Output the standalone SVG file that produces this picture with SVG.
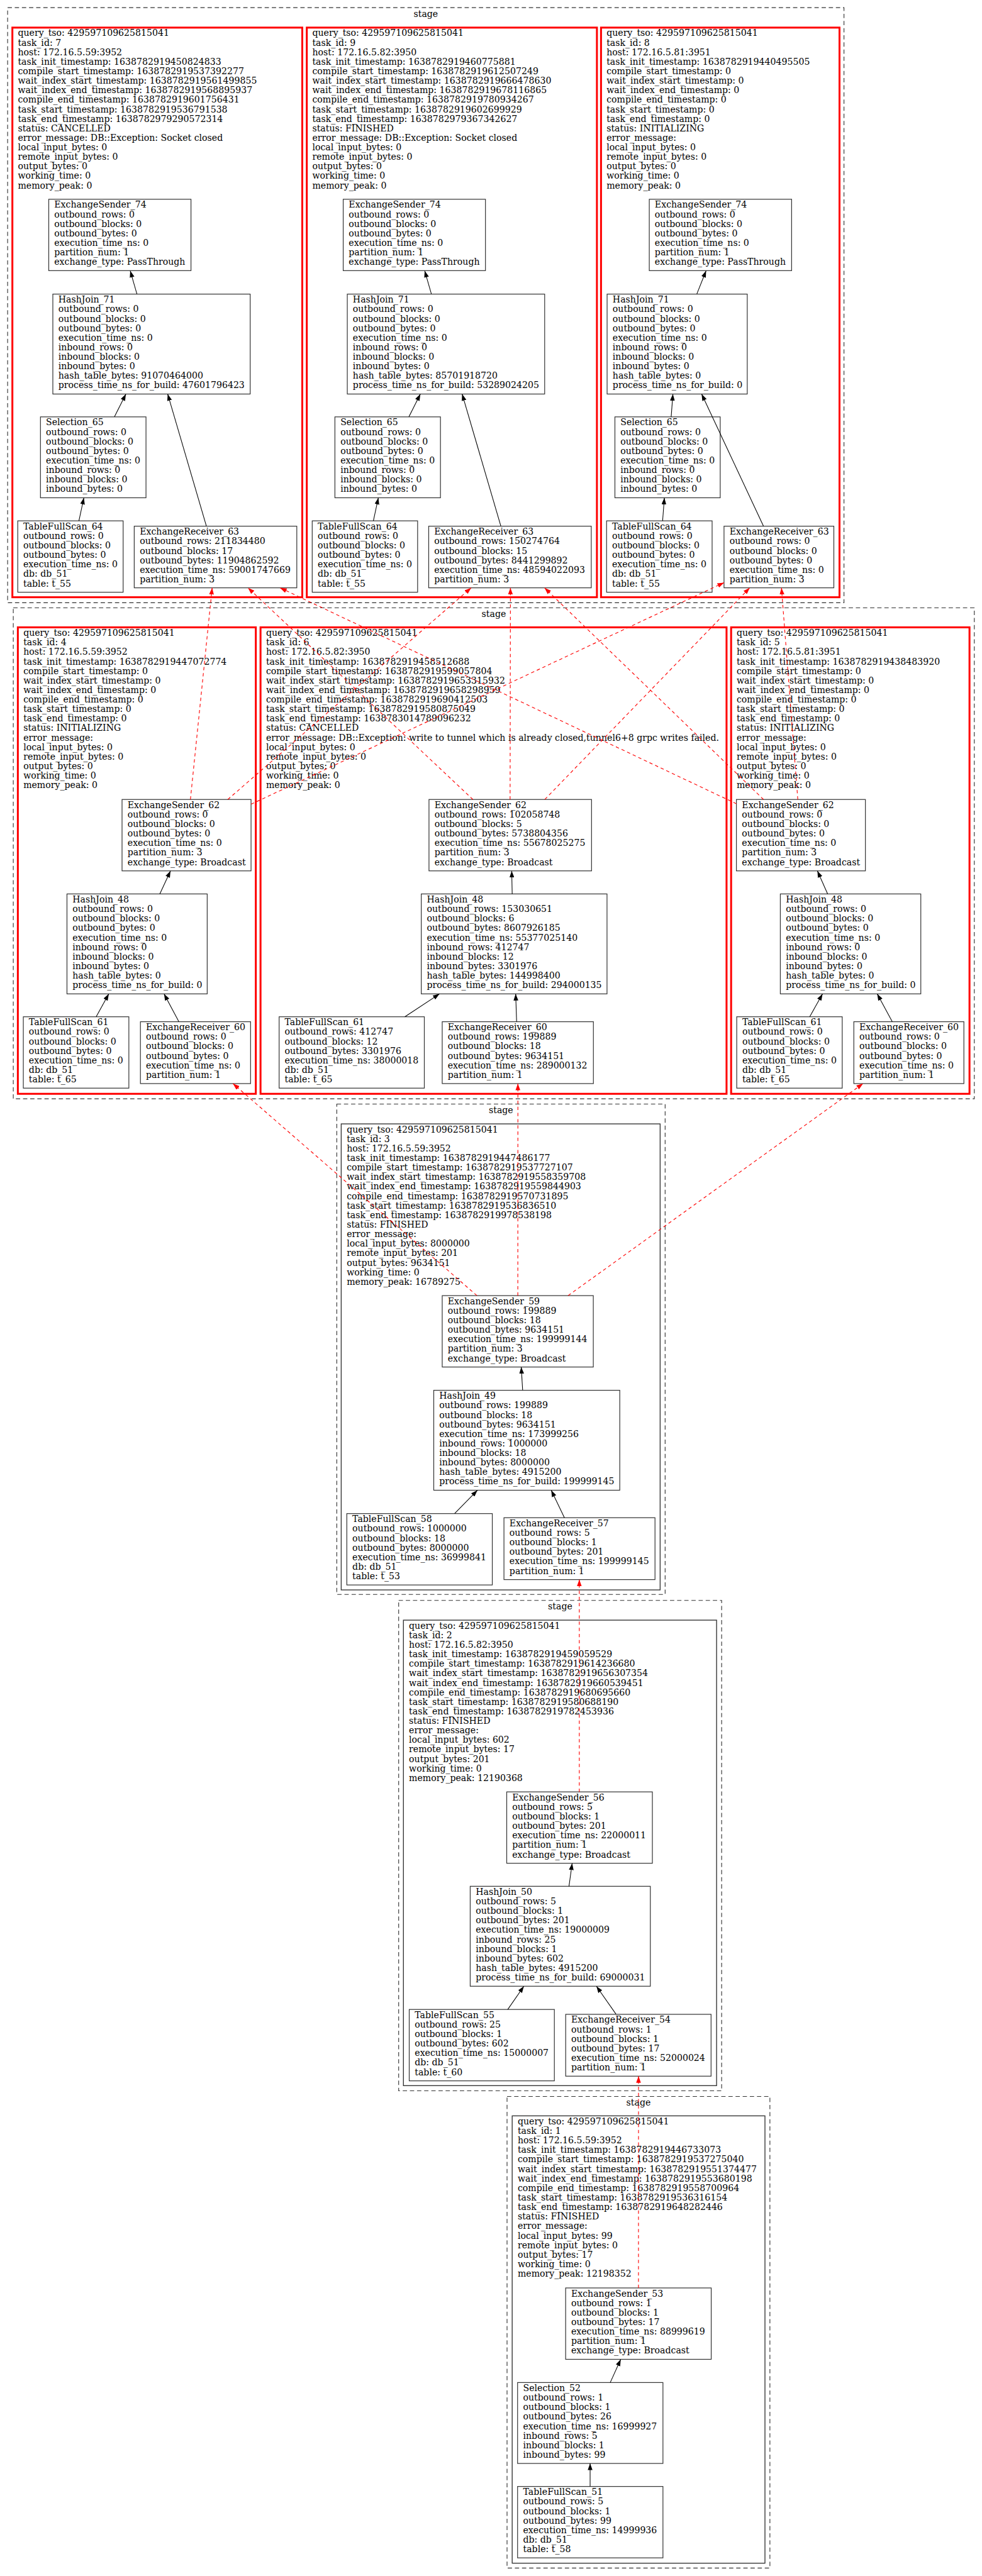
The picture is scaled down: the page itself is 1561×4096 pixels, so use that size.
<svg xmlns="http://www.w3.org/2000/svg" width="1561" height="4096" viewBox="0 0 1561 4096">
<style>
.t{font-family:"DejaVu Serif",serif;font-size:18.67px;fill:#000}
.lb{font-family:"DejaVu Serif",serif;font-size:18.67px;fill:#000;text-anchor:middle}
.n{fill:#fff;stroke:#333;stroke-width:1.6}
.r{fill:#fff;stroke:#f00;stroke-width:4}
.k{fill:#fff;stroke:#333;stroke-width:1.8}
.s{fill:none;stroke:#333;stroke-width:1.5;stroke-dasharray:9 6}
.e{stroke:#000;stroke-width:1.4;fill:none}
.d{stroke:#f00;stroke-width:1.5;stroke-dasharray:7 6;fill:none}
</style>
<defs>
<marker id="ab" viewBox="0 0 14 10" markerWidth="14" markerHeight="10" refX="14" refY="5" orient="auto" markerUnits="userSpaceOnUse"><path d="M0,0 L14,5 L0,10 z" fill="#000"/></marker>
<marker id="ar" viewBox="0 0 14 10" markerWidth="14" markerHeight="10" refX="14" refY="5" orient="auto" markerUnits="userSpaceOnUse"><path d="M0,0 L14,5 L0,10 z" fill="#f00"/></marker>
</defs>
<rect width="1561" height="4096" fill="#fff"/>
<g transform="scale(0.75668)">
<g id="clusters">
<rect class="s" x="16" y="16" width="1757" height="1250.5"/>
<text class="lb" x="894.5" y="35.5">stage</text>
<rect class="s" x="27.9" y="1277.3" width="2018.9" height="1031.7"/>
<text class="lb" x="1037.4" y="1296.8">stage</text>
<rect class="s" x="707.5" y="2320" width="689.8" height="1030.5"/>
<text class="lb" x="1052.4" y="2339.5">stage</text>
<rect class="s" x="837.5" y="3363" width="678.5" height="1030.6"/>
<text class="lb" x="1176.8" y="3382.5">stage</text>
<rect class="s" x="1065.2" y="4405.4" width="552.2" height="991"/>
<text class="lb" x="1341.3" y="4425">stage</text>
</g>

<g id="task7">
<rect class="r" x="26" y="58" width="609" height="1197"/>
<text class="t" x="37.6" y="76"><tspan x="37.6">query_tso: 429597109625815041</tspan><tspan x="37.6" dy="20">task_id: 7</tspan><tspan x="37.6" dy="20">host: 172.16.5.59:3952</tspan><tspan x="37.6" dy="20">task_init_timestamp: 1638782919450824833</tspan><tspan x="37.6" dy="20">compile_start_timestamp: 1638782919537392277</tspan><tspan x="37.6" dy="20">wait_index_start_timestamp: 1638782919561499855</tspan><tspan x="37.6" dy="20">wait_index_end_timestamp: 1638782919568895937</tspan><tspan x="37.6" dy="20">compile_end_timestamp: 1638782919601756431</tspan><tspan x="37.6" dy="20">task_start_timestamp: 1638782919536791538</tspan><tspan x="37.6" dy="20">task_end_timestamp: 1638782979290572314</tspan><tspan x="37.6" dy="20">status: CANCELLED</tspan><tspan x="37.6" dy="20">error_message: DB::Exception: Socket closed</tspan><tspan x="37.6" dy="20">local_input_bytes: 0</tspan><tspan x="37.6" dy="20">remote_input_bytes: 0</tspan><tspan x="37.6" dy="20">output_bytes: 0</tspan><tspan x="37.6" dy="20">working_time: 0</tspan><tspan x="37.6" dy="20">memory_peak: 0</tspan></text>
</g>
<g id="t7_es74"><rect class="n" x="102.4" y="418.7" width="298.8" height="150"/><text class="t" x="114" y="436.7"><tspan x="114">ExchangeSender_74</tspan><tspan x="114" dy="20">outbound_rows: 0</tspan><tspan x="114" dy="20">outbound_blocks: 0</tspan><tspan x="114" dy="20">outbound_bytes: 0</tspan><tspan x="114" dy="20">execution_time_ns: 0</tspan><tspan x="114" dy="20">partition_num: 1</tspan><tspan x="114" dy="20">exchange_type: PassThrough</tspan></text></g>
<g id="t7_hj71"><rect class="n" x="111" y="618" width="414.6" height="210"/><text class="t" x="122.6" y="636"><tspan x="122.6">HashJoin_71</tspan><tspan x="122.6" dy="20">outbound_rows: 0</tspan><tspan x="122.6" dy="20">outbound_blocks: 0</tspan><tspan x="122.6" dy="20">outbound_bytes: 0</tspan><tspan x="122.6" dy="20">execution_time_ns: 0</tspan><tspan x="122.6" dy="20">inbound_rows: 0</tspan><tspan x="122.6" dy="20">inbound_blocks: 0</tspan><tspan x="122.6" dy="20">inbound_bytes: 0</tspan><tspan x="122.6" dy="20">hash_table_bytes: 91070464000</tspan><tspan x="122.6" dy="20">process_time_ns_for_build: 47601796423</tspan></text></g>
<g id="t7_sel65"><rect class="n" x="85" y="876" width="221.7" height="170"/><text class="t" x="96.6" y="894"><tspan x="96.6">Selection_65</tspan><tspan x="96.6" dy="20">outbound_rows: 0</tspan><tspan x="96.6" dy="20">outbound_blocks: 0</tspan><tspan x="96.6" dy="20">outbound_bytes: 0</tspan><tspan x="96.6" dy="20">execution_time_ns: 0</tspan><tspan x="96.6" dy="20">inbound_rows: 0</tspan><tspan x="96.6" dy="20">inbound_blocks: 0</tspan><tspan x="96.6" dy="20">inbound_bytes: 0</tspan></text></g>
<g id="t7_tfs64"><rect class="n" x="37.3" y="1094.5" width="221.4" height="150"/><text class="t" x="48.9" y="1112.5"><tspan x="48.9">TableFullScan_64</tspan><tspan x="48.9" dy="20">outbound_rows: 0</tspan><tspan x="48.9" dy="20">outbound_blocks: 0</tspan><tspan x="48.9" dy="20">outbound_bytes: 0</tspan><tspan x="48.9" dy="20">execution_time_ns: 0</tspan><tspan x="48.9" dy="20">db: db_51</tspan><tspan x="48.9" dy="20">table: t_55</tspan></text></g>
<g id="t7_er63"><rect class="n" x="282" y="1105.7" width="341.5" height="129.5"/><text class="t" x="293.6" y="1123.7"><tspan x="293.6">ExchangeReceiver_63</tspan><tspan x="293.6" dy="20">outbound_rows: 211834480</tspan><tspan x="293.6" dy="20">outbound_blocks: 17</tspan><tspan x="293.6" dy="20">outbound_bytes: 11904862592</tspan><tspan x="293.6" dy="20">execution_time_ns: 59001747669</tspan><tspan x="293.6" dy="20">partition_num: 3</tspan></text></g>

<g id="task9">
<rect class="r" x="644.5" y="58" width="609.5" height="1197"/>
<text class="t" x="656.1" y="76"><tspan x="656.1">query_tso: 429597109625815041</tspan><tspan x="656.1" dy="20">task_id: 9</tspan><tspan x="656.1" dy="20">host: 172.16.5.82:3950</tspan><tspan x="656.1" dy="20">task_init_timestamp: 1638782919460775881</tspan><tspan x="656.1" dy="20">compile_start_timestamp: 1638782919612507249</tspan><tspan x="656.1" dy="20">wait_index_start_timestamp: 1638782919666478630</tspan><tspan x="656.1" dy="20">wait_index_end_timestamp: 1638782919678116865</tspan><tspan x="656.1" dy="20">compile_end_timestamp: 1638782919780934267</tspan><tspan x="656.1" dy="20">task_start_timestamp: 1638782919602699929</tspan><tspan x="656.1" dy="20">task_end_timestamp: 1638782979367342627</tspan><tspan x="656.1" dy="20">status: FINISHED</tspan><tspan x="656.1" dy="20">error_message: DB::Exception: Socket closed</tspan><tspan x="656.1" dy="20">local_input_bytes: 0</tspan><tspan x="656.1" dy="20">remote_input_bytes: 0</tspan><tspan x="656.1" dy="20">output_bytes: 0</tspan><tspan x="656.1" dy="20">working_time: 0</tspan><tspan x="656.1" dy="20">memory_peak: 0</tspan></text>
</g>
<g id="t9_es74"><rect class="n" x="721" y="418.7" width="298.8" height="150"/><text class="t" x="732.6" y="436.7"><tspan x="732.6">ExchangeSender_74</tspan><tspan x="732.6" dy="20">outbound_rows: 0</tspan><tspan x="732.6" dy="20">outbound_blocks: 0</tspan><tspan x="732.6" dy="20">outbound_bytes: 0</tspan><tspan x="732.6" dy="20">execution_time_ns: 0</tspan><tspan x="732.6" dy="20">partition_num: 1</tspan><tspan x="732.6" dy="20">exchange_type: PassThrough</tspan></text></g>
<g id="t9_hj71"><rect class="n" x="729.6" y="618" width="414.6" height="210"/><text class="t" x="741.2" y="636"><tspan x="741.2">HashJoin_71</tspan><tspan x="741.2" dy="20">outbound_rows: 0</tspan><tspan x="741.2" dy="20">outbound_blocks: 0</tspan><tspan x="741.2" dy="20">outbound_bytes: 0</tspan><tspan x="741.2" dy="20">execution_time_ns: 0</tspan><tspan x="741.2" dy="20">inbound_rows: 0</tspan><tspan x="741.2" dy="20">inbound_blocks: 0</tspan><tspan x="741.2" dy="20">inbound_bytes: 0</tspan><tspan x="741.2" dy="20">hash_table_bytes: 85701918720</tspan><tspan x="741.2" dy="20">process_time_ns_for_build: 53289024205</tspan></text></g>
<g id="t9_sel65"><rect class="n" x="703.6" y="876" width="221.7" height="170"/><text class="t" x="715.2" y="894"><tspan x="715.2">Selection_65</tspan><tspan x="715.2" dy="20">outbound_rows: 0</tspan><tspan x="715.2" dy="20">outbound_blocks: 0</tspan><tspan x="715.2" dy="20">outbound_bytes: 0</tspan><tspan x="715.2" dy="20">execution_time_ns: 0</tspan><tspan x="715.2" dy="20">inbound_rows: 0</tspan><tspan x="715.2" dy="20">inbound_blocks: 0</tspan><tspan x="715.2" dy="20">inbound_bytes: 0</tspan></text></g>
<g id="t9_tfs64"><rect class="n" x="655.9" y="1094.5" width="221.4" height="150"/><text class="t" x="667.5" y="1112.5"><tspan x="667.5">TableFullScan_64</tspan><tspan x="667.5" dy="20">outbound_rows: 0</tspan><tspan x="667.5" dy="20">outbound_blocks: 0</tspan><tspan x="667.5" dy="20">outbound_bytes: 0</tspan><tspan x="667.5" dy="20">execution_time_ns: 0</tspan><tspan x="667.5" dy="20">db: db_51</tspan><tspan x="667.5" dy="20">table: t_55</tspan></text></g>
<g id="t9_er63"><rect class="n" x="900.6" y="1105.7" width="341.5" height="129.5"/><text class="t" x="912.2" y="1123.7"><tspan x="912.2">ExchangeReceiver_63</tspan><tspan x="912.2" dy="20">outbound_rows: 150274764</tspan><tspan x="912.2" dy="20">outbound_blocks: 15</tspan><tspan x="912.2" dy="20">outbound_bytes: 8441299892</tspan><tspan x="912.2" dy="20">execution_time_ns: 48594022093</tspan><tspan x="912.2" dy="20">partition_num: 3</tspan></text></g>

<g id="task8">
<rect class="r" x="1262.6" y="58" width="501" height="1197"/>
<text class="t" x="1274.2" y="76"><tspan x="1274.2">query_tso: 429597109625815041</tspan><tspan x="1274.2" dy="20">task_id: 8</tspan><tspan x="1274.2" dy="20">host: 172.16.5.81:3951</tspan><tspan x="1274.2" dy="20">task_init_timestamp: 1638782919440495505</tspan><tspan x="1274.2" dy="20">compile_start_timestamp: 0</tspan><tspan x="1274.2" dy="20">wait_index_start_timestamp: 0</tspan><tspan x="1274.2" dy="20">wait_index_end_timestamp: 0</tspan><tspan x="1274.2" dy="20">compile_end_timestamp: 0</tspan><tspan x="1274.2" dy="20">task_start_timestamp: 0</tspan><tspan x="1274.2" dy="20">task_end_timestamp: 0</tspan><tspan x="1274.2" dy="20">status: INITIALIZING</tspan><tspan x="1274.2" dy="20">error_message:</tspan><tspan x="1274.2" dy="20">local_input_bytes: 0</tspan><tspan x="1274.2" dy="20">remote_input_bytes: 0</tspan><tspan x="1274.2" dy="20">output_bytes: 0</tspan><tspan x="1274.2" dy="20">working_time: 0</tspan><tspan x="1274.2" dy="20">memory_peak: 0</tspan></text>
</g>
<g id="t8_es74"><rect class="n" x="1364" y="418.7" width="299" height="150"/><text class="t" x="1375.6" y="436.7"><tspan x="1375.6">ExchangeSender_74</tspan><tspan x="1375.6" dy="20">outbound_rows: 0</tspan><tspan x="1375.6" dy="20">outbound_blocks: 0</tspan><tspan x="1375.6" dy="20">outbound_bytes: 0</tspan><tspan x="1375.6" dy="20">execution_time_ns: 0</tspan><tspan x="1375.6" dy="20">partition_num: 1</tspan><tspan x="1375.6" dy="20">exchange_type: PassThrough</tspan></text></g>
<g id="t8_hj71"><rect class="n" x="1275.4" y="618" width="294.4" height="210"/><text class="t" x="1287" y="636"><tspan x="1287">HashJoin_71</tspan><tspan x="1287" dy="20">outbound_rows: 0</tspan><tspan x="1287" dy="20">outbound_blocks: 0</tspan><tspan x="1287" dy="20">outbound_bytes: 0</tspan><tspan x="1287" dy="20">execution_time_ns: 0</tspan><tspan x="1287" dy="20">inbound_rows: 0</tspan><tspan x="1287" dy="20">inbound_blocks: 0</tspan><tspan x="1287" dy="20">inbound_bytes: 0</tspan><tspan x="1287" dy="20">hash_table_bytes: 0</tspan><tspan x="1287" dy="20">process_time_ns_for_build: 0</tspan></text></g>
<g id="t8_sel65"><rect class="n" x="1291.8" y="876" width="221.2" height="170"/><text class="t" x="1303.4" y="894"><tspan x="1303.4">Selection_65</tspan><tspan x="1303.4" dy="20">outbound_rows: 0</tspan><tspan x="1303.4" dy="20">outbound_blocks: 0</tspan><tspan x="1303.4" dy="20">outbound_bytes: 0</tspan><tspan x="1303.4" dy="20">execution_time_ns: 0</tspan><tspan x="1303.4" dy="20">inbound_rows: 0</tspan><tspan x="1303.4" dy="20">inbound_blocks: 0</tspan><tspan x="1303.4" dy="20">inbound_bytes: 0</tspan></text></g>
<g id="t8_tfs64"><rect class="n" x="1274.3" y="1094.5" width="221.7" height="150"/><text class="t" x="1285.9" y="1112.5"><tspan x="1285.9">TableFullScan_64</tspan><tspan x="1285.9" dy="20">outbound_rows: 0</tspan><tspan x="1285.9" dy="20">outbound_blocks: 0</tspan><tspan x="1285.9" dy="20">outbound_bytes: 0</tspan><tspan x="1285.9" dy="20">execution_time_ns: 0</tspan><tspan x="1285.9" dy="20">db: db_51</tspan><tspan x="1285.9" dy="20">table: t_55</tspan></text></g>
<g id="t8_er63"><rect class="n" x="1521" y="1105.7" width="230.7" height="129.5"/><text class="t" x="1532.6" y="1123.7"><tspan x="1532.6">ExchangeReceiver_63</tspan><tspan x="1532.6" dy="20">outbound_rows: 0</tspan><tspan x="1532.6" dy="20">outbound_blocks: 0</tspan><tspan x="1532.6" dy="20">outbound_bytes: 0</tspan><tspan x="1532.6" dy="20">execution_time_ns: 0</tspan><tspan x="1532.6" dy="20">partition_num: 3</tspan></text></g>

<g id="task4">
<rect class="r" x="37.5" y="1318.3" width="499.9" height="980.2"/>
<text class="t" x="49.1" y="1336.3"><tspan x="49.1">query_tso: 429597109625815041</tspan><tspan x="49.1" dy="20">task_id: 4</tspan><tspan x="49.1" dy="20">host: 172.16.5.59:3952</tspan><tspan x="49.1" dy="20">task_init_timestamp: 1638782919447072774</tspan><tspan x="49.1" dy="20">compile_start_timestamp: 0</tspan><tspan x="49.1" dy="20">wait_index_start_timestamp: 0</tspan><tspan x="49.1" dy="20">wait_index_end_timestamp: 0</tspan><tspan x="49.1" dy="20">compile_end_timestamp: 0</tspan><tspan x="49.1" dy="20">task_start_timestamp: 0</tspan><tspan x="49.1" dy="20">task_end_timestamp: 0</tspan><tspan x="49.1" dy="20">status: INITIALIZING</tspan><tspan x="49.1" dy="20">error_message:</tspan><tspan x="49.1" dy="20">local_input_bytes: 0</tspan><tspan x="49.1" dy="20">remote_input_bytes: 0</tspan><tspan x="49.1" dy="20">output_bytes: 0</tspan><tspan x="49.1" dy="20">working_time: 0</tspan><tspan x="49.1" dy="20">memory_peak: 0</tspan></text>
</g>
<g id="t4_es62"><rect class="n" x="256.4" y="1680" width="271" height="150"/><text class="t" x="268" y="1698"><tspan x="268">ExchangeSender_62</tspan><tspan x="268" dy="20">outbound_rows: 0</tspan><tspan x="268" dy="20">outbound_blocks: 0</tspan><tspan x="268" dy="20">outbound_bytes: 0</tspan><tspan x="268" dy="20">execution_time_ns: 0</tspan><tspan x="268" dy="20">partition_num: 3</tspan><tspan x="268" dy="20">exchange_type: Broadcast</tspan></text></g>
<g id="t4_hj48"><rect class="n" x="140.7" y="1878.5" width="294.6" height="210"/><text class="t" x="152.3" y="1896.5"><tspan x="152.3">HashJoin_48</tspan><tspan x="152.3" dy="20">outbound_rows: 0</tspan><tspan x="152.3" dy="20">outbound_blocks: 0</tspan><tspan x="152.3" dy="20">outbound_bytes: 0</tspan><tspan x="152.3" dy="20">execution_time_ns: 0</tspan><tspan x="152.3" dy="20">inbound_rows: 0</tspan><tspan x="152.3" dy="20">inbound_blocks: 0</tspan><tspan x="152.3" dy="20">inbound_bytes: 0</tspan><tspan x="152.3" dy="20">hash_table_bytes: 0</tspan><tspan x="152.3" dy="20">process_time_ns_for_build: 0</tspan></text></g>
<g id="t4_tfs61"><rect class="n" x="49" y="2136.6" width="221.7" height="150"/><text class="t" x="60.6" y="2154.6"><tspan x="60.6">TableFullScan_61</tspan><tspan x="60.6" dy="20">outbound_rows: 0</tspan><tspan x="60.6" dy="20">outbound_blocks: 0</tspan><tspan x="60.6" dy="20">outbound_bytes: 0</tspan><tspan x="60.6" dy="20">execution_time_ns: 0</tspan><tspan x="60.6" dy="20">db: db_51</tspan><tspan x="60.6" dy="20">table: t_65</tspan></text></g>
<g id="t4_er60"><rect class="n" x="295" y="2147" width="231.4" height="130"/><text class="t" x="306.6" y="2165"><tspan x="306.6">ExchangeReceiver_60</tspan><tspan x="306.6" dy="20">outbound_rows: 0</tspan><tspan x="306.6" dy="20">outbound_blocks: 0</tspan><tspan x="306.6" dy="20">outbound_bytes: 0</tspan><tspan x="306.6" dy="20">execution_time_ns: 0</tspan><tspan x="306.6" dy="20">partition_num: 1</tspan></text></g>

<g id="task6">
<rect class="r" x="547.3" y="1318.3" width="979" height="980.2"/>
<text class="t" x="558.9" y="1336.3"><tspan x="558.9">query_tso: 429597109625815041</tspan><tspan x="558.9" dy="20">task_id: 6</tspan><tspan x="558.9" dy="20">host: 172.16.5.82:3950</tspan><tspan x="558.9" dy="20">task_init_timestamp: 1638782919458512688</tspan><tspan x="558.9" dy="20">compile_start_timestamp: 1638782919599057804</tspan><tspan x="558.9" dy="20">wait_index_start_timestamp: 1638782919653315932</tspan><tspan x="558.9" dy="20">wait_index_end_timestamp: 1638782919658298959</tspan><tspan x="558.9" dy="20">compile_end_timestamp: 1638782919690412503</tspan><tspan x="558.9" dy="20">task_start_timestamp: 1638782919580875049</tspan><tspan x="558.9" dy="20">task_end_timestamp: 1638783014789096232</tspan><tspan x="558.9" dy="20">status: CANCELLED</tspan><tspan x="558.9" dy="20">error_message: DB::Exception: write to tunnel which is already closed,tunnel6+8 grpc writes failed.</tspan><tspan x="558.9" dy="20">local_input_bytes: 0</tspan><tspan x="558.9" dy="20">remote_input_bytes: 0</tspan><tspan x="558.9" dy="20">output_bytes: 0</tspan><tspan x="558.9" dy="20">working_time: 0</tspan><tspan x="558.9" dy="20">memory_peak: 0</tspan></text>
</g>
<g id="t6_es62"><rect class="n" x="901.2" y="1680" width="341.5" height="150"/><text class="t" x="912.8" y="1698"><tspan x="912.8">ExchangeSender_62</tspan><tspan x="912.8" dy="20">outbound_rows: 102058748</tspan><tspan x="912.8" dy="20">outbound_blocks: 5</tspan><tspan x="912.8" dy="20">outbound_bytes: 5738804356</tspan><tspan x="912.8" dy="20">execution_time_ns: 55678025275</tspan><tspan x="912.8" dy="20">partition_num: 3</tspan><tspan x="912.8" dy="20">exchange_type: Broadcast</tspan></text></g>
<g id="t6_hj48"><rect class="n" x="885" y="1878.5" width="390.2" height="210"/><text class="t" x="896.6" y="1896.5"><tspan x="896.6">HashJoin_48</tspan><tspan x="896.6" dy="20">outbound_rows: 153030651</tspan><tspan x="896.6" dy="20">outbound_blocks: 6</tspan><tspan x="896.6" dy="20">outbound_bytes: 8607926185</tspan><tspan x="896.6" dy="20">execution_time_ns: 55377025140</tspan><tspan x="896.6" dy="20">inbound_rows: 412747</tspan><tspan x="896.6" dy="20">inbound_blocks: 12</tspan><tspan x="896.6" dy="20">inbound_bytes: 3301976</tspan><tspan x="896.6" dy="20">hash_table_bytes: 144998400</tspan><tspan x="896.6" dy="20">process_time_ns_for_build: 294000135</tspan></text></g>
<g id="t6_tfs61"><rect class="n" x="586.4" y="2136.6" width="305" height="150"/><text class="t" x="598" y="2154.6"><tspan x="598">TableFullScan_61</tspan><tspan x="598" dy="20">outbound_rows: 412747</tspan><tspan x="598" dy="20">outbound_blocks: 12</tspan><tspan x="598" dy="20">outbound_bytes: 3301976</tspan><tspan x="598" dy="20">execution_time_ns: 38000018</tspan><tspan x="598" dy="20">db: db_51</tspan><tspan x="598" dy="20">table: t_65</tspan></text></g>
<g id="t6_er60"><rect class="n" x="929" y="2147" width="317.6" height="130"/><text class="t" x="940.6" y="2165"><tspan x="940.6">ExchangeReceiver_60</tspan><tspan x="940.6" dy="20">outbound_rows: 199889</tspan><tspan x="940.6" dy="20">outbound_blocks: 18</tspan><tspan x="940.6" dy="20">outbound_bytes: 9634151</tspan><tspan x="940.6" dy="20">execution_time_ns: 289000132</tspan><tspan x="940.6" dy="20">partition_num: 1</tspan></text></g>

<g id="task5">
<rect class="r" x="1535.9" y="1318.3" width="500.8" height="980.2"/>
<text class="t" x="1547.5" y="1336.3"><tspan x="1547.5">query_tso: 429597109625815041</tspan><tspan x="1547.5" dy="20">task_id: 5</tspan><tspan x="1547.5" dy="20">host: 172.16.5.81:3951</tspan><tspan x="1547.5" dy="20">task_init_timestamp: 1638782919438483920</tspan><tspan x="1547.5" dy="20">compile_start_timestamp: 0</tspan><tspan x="1547.5" dy="20">wait_index_start_timestamp: 0</tspan><tspan x="1547.5" dy="20">wait_index_end_timestamp: 0</tspan><tspan x="1547.5" dy="20">compile_end_timestamp: 0</tspan><tspan x="1547.5" dy="20">task_start_timestamp: 0</tspan><tspan x="1547.5" dy="20">task_end_timestamp: 0</tspan><tspan x="1547.5" dy="20">status: INITIALIZING</tspan><tspan x="1547.5" dy="20">error_message:</tspan><tspan x="1547.5" dy="20">local_input_bytes: 0</tspan><tspan x="1547.5" dy="20">remote_input_bytes: 0</tspan><tspan x="1547.5" dy="20">output_bytes: 0</tspan><tspan x="1547.5" dy="20">working_time: 0</tspan><tspan x="1547.5" dy="20">memory_peak: 0</tspan></text>
</g>
<g id="t5_es62"><rect class="n" x="1547" y="1680" width="271" height="150"/><text class="t" x="1558.6" y="1698"><tspan x="1558.6">ExchangeSender_62</tspan><tspan x="1558.6" dy="20">outbound_rows: 0</tspan><tspan x="1558.6" dy="20">outbound_blocks: 0</tspan><tspan x="1558.6" dy="20">outbound_bytes: 0</tspan><tspan x="1558.6" dy="20">execution_time_ns: 0</tspan><tspan x="1558.6" dy="20">partition_num: 3</tspan><tspan x="1558.6" dy="20">exchange_type: Broadcast</tspan></text></g>
<g id="t5_hj48"><rect class="n" x="1639.3" y="1878.5" width="295.1" height="210"/><text class="t" x="1650.9" y="1896.5"><tspan x="1650.9">HashJoin_48</tspan><tspan x="1650.9" dy="20">outbound_rows: 0</tspan><tspan x="1650.9" dy="20">outbound_blocks: 0</tspan><tspan x="1650.9" dy="20">outbound_bytes: 0</tspan><tspan x="1650.9" dy="20">execution_time_ns: 0</tspan><tspan x="1650.9" dy="20">inbound_rows: 0</tspan><tspan x="1650.9" dy="20">inbound_blocks: 0</tspan><tspan x="1650.9" dy="20">inbound_bytes: 0</tspan><tspan x="1650.9" dy="20">hash_table_bytes: 0</tspan><tspan x="1650.9" dy="20">process_time_ns_for_build: 0</tspan></text></g>
<g id="t5_tfs61"><rect class="n" x="1547.7" y="2136.6" width="221.6" height="150"/><text class="t" x="1559.3" y="2154.6"><tspan x="1559.3">TableFullScan_61</tspan><tspan x="1559.3" dy="20">outbound_rows: 0</tspan><tspan x="1559.3" dy="20">outbound_blocks: 0</tspan><tspan x="1559.3" dy="20">outbound_bytes: 0</tspan><tspan x="1559.3" dy="20">execution_time_ns: 0</tspan><tspan x="1559.3" dy="20">db: db_51</tspan><tspan x="1559.3" dy="20">table: t_65</tspan></text></g>
<g id="t5_er60"><rect class="n" x="1793.7" y="2147" width="231.2" height="130"/><text class="t" x="1805.3" y="2165"><tspan x="1805.3">ExchangeReceiver_60</tspan><tspan x="1805.3" dy="20">outbound_rows: 0</tspan><tspan x="1805.3" dy="20">outbound_blocks: 0</tspan><tspan x="1805.3" dy="20">outbound_bytes: 0</tspan><tspan x="1805.3" dy="20">execution_time_ns: 0</tspan><tspan x="1805.3" dy="20">partition_num: 1</tspan></text></g>

<g id="task3">
<rect class="k" x="716.8" y="2361.7" width="670" height="979.3"/>
<text class="t" x="728.4" y="2379.7"><tspan x="728.4">query_tso: 429597109625815041</tspan><tspan x="728.4" dy="20">task_id: 3</tspan><tspan x="728.4" dy="20">host: 172.16.5.59:3952</tspan><tspan x="728.4" dy="20">task_init_timestamp: 1638782919447486177</tspan><tspan x="728.4" dy="20">compile_start_timestamp: 1638782919537727107</tspan><tspan x="728.4" dy="20">wait_index_start_timestamp: 1638782919558359708</tspan><tspan x="728.4" dy="20">wait_index_end_timestamp: 1638782919559844903</tspan><tspan x="728.4" dy="20">compile_end_timestamp: 1638782919570731895</tspan><tspan x="728.4" dy="20">task_start_timestamp: 1638782919536836510</tspan><tspan x="728.4" dy="20">task_end_timestamp: 1638782919978538198</tspan><tspan x="728.4" dy="20">status: FINISHED</tspan><tspan x="728.4" dy="20">error_message:</tspan><tspan x="728.4" dy="20">local_input_bytes: 8000000</tspan><tspan x="728.4" dy="20">remote_input_bytes: 201</tspan><tspan x="728.4" dy="20">output_bytes: 9634151</tspan><tspan x="728.4" dy="20">working_time: 0</tspan><tspan x="728.4" dy="20">memory_peak: 16789275</tspan></text>
</g>
<g id="t3_es59"><rect class="n" x="929" y="2722.6" width="317.4" height="150"/><text class="t" x="940.6" y="2740.6"><tspan x="940.6">ExchangeSender_59</tspan><tspan x="940.6" dy="20">outbound_rows: 199889</tspan><tspan x="940.6" dy="20">outbound_blocks: 18</tspan><tspan x="940.6" dy="20">outbound_bytes: 9634151</tspan><tspan x="940.6" dy="20">execution_time_ns: 199999144</tspan><tspan x="940.6" dy="20">partition_num: 3</tspan><tspan x="940.6" dy="20">exchange_type: Broadcast</tspan></text></g>
<g id="t3_hj49"><rect class="n" x="911.2" y="2921.5" width="390.8" height="210"/><text class="t" x="922.8" y="2939.5"><tspan x="922.8">HashJoin_49</tspan><tspan x="922.8" dy="20">outbound_rows: 199889</tspan><tspan x="922.8" dy="20">outbound_blocks: 18</tspan><tspan x="922.8" dy="20">outbound_bytes: 9634151</tspan><tspan x="922.8" dy="20">execution_time_ns: 173999256</tspan><tspan x="922.8" dy="20">inbound_rows: 1000000</tspan><tspan x="922.8" dy="20">inbound_blocks: 18</tspan><tspan x="922.8" dy="20">inbound_bytes: 8000000</tspan><tspan x="922.8" dy="20">hash_table_bytes: 4915200</tspan><tspan x="922.8" dy="20">process_time_ns_for_build: 199999145</tspan></text></g>
<g id="t3_tfs58"><rect class="n" x="728.6" y="3180.6" width="305.6" height="150"/><text class="t" x="740.2" y="3198.6"><tspan x="740.2">TableFullScan_58</tspan><tspan x="740.2" dy="20">outbound_rows: 1000000</tspan><tspan x="740.2" dy="20">outbound_blocks: 18</tspan><tspan x="740.2" dy="20">outbound_bytes: 8000000</tspan><tspan x="740.2" dy="20">execution_time_ns: 36999841</tspan><tspan x="740.2" dy="20">db: db_51</tspan><tspan x="740.2" dy="20">table: t_53</tspan></text></g>
<g id="t3_er57"><rect class="n" x="1058.7" y="3189.3" width="317.3" height="130"/><text class="t" x="1070.3" y="3207.3"><tspan x="1070.3">ExchangeReceiver_57</tspan><tspan x="1070.3" dy="20">outbound_rows: 5</tspan><tspan x="1070.3" dy="20">outbound_blocks: 1</tspan><tspan x="1070.3" dy="20">outbound_bytes: 201</tspan><tspan x="1070.3" dy="20">execution_time_ns: 199999145</tspan><tspan x="1070.3" dy="20">partition_num: 1</tspan></text></g>

<g id="task2">
<rect class="k" x="847.5" y="3404.5" width="657.9" height="978.2"/>
<text class="t" x="859.1" y="3422.5"><tspan x="859.1">query_tso: 429597109625815041</tspan><tspan x="859.1" dy="20">task_id: 2</tspan><tspan x="859.1" dy="20">host: 172.16.5.82:3950</tspan><tspan x="859.1" dy="20">task_init_timestamp: 1638782919459059529</tspan><tspan x="859.1" dy="20">compile_start_timestamp: 1638782919614236680</tspan><tspan x="859.1" dy="20">wait_index_start_timestamp: 1638782919656307354</tspan><tspan x="859.1" dy="20">wait_index_end_timestamp: 1638782919660539451</tspan><tspan x="859.1" dy="20">compile_end_timestamp: 1638782919680695660</tspan><tspan x="859.1" dy="20">task_start_timestamp: 1638782919580688190</tspan><tspan x="859.1" dy="20">task_end_timestamp: 1638782919782453936</tspan><tspan x="859.1" dy="20">status: FINISHED</tspan><tspan x="859.1" dy="20">error_message:</tspan><tspan x="859.1" dy="20">local_input_bytes: 602</tspan><tspan x="859.1" dy="20">remote_input_bytes: 17</tspan><tspan x="859.1" dy="20">output_bytes: 201</tspan><tspan x="859.1" dy="20">working_time: 0</tspan><tspan x="859.1" dy="20">memory_peak: 12190368</tspan></text>
</g>
<g id="t2_es56"><rect class="n" x="1064.5" y="3765.4" width="306" height="150"/><text class="t" x="1076.1" y="3783.4"><tspan x="1076.1">ExchangeSender_56</tspan><tspan x="1076.1" dy="20">outbound_rows: 5</tspan><tspan x="1076.1" dy="20">outbound_blocks: 1</tspan><tspan x="1076.1" dy="20">outbound_bytes: 201</tspan><tspan x="1076.1" dy="20">execution_time_ns: 22000011</tspan><tspan x="1076.1" dy="20">partition_num: 1</tspan><tspan x="1076.1" dy="20">exchange_type: Broadcast</tspan></text></g>
<g id="t2_hj50"><rect class="n" x="987.8" y="3963.8" width="378.4" height="210"/><text class="t" x="999.4" y="3981.8"><tspan x="999.4">HashJoin_50</tspan><tspan x="999.4" dy="20">outbound_rows: 5</tspan><tspan x="999.4" dy="20">outbound_blocks: 1</tspan><tspan x="999.4" dy="20">outbound_bytes: 201</tspan><tspan x="999.4" dy="20">execution_time_ns: 19000009</tspan><tspan x="999.4" dy="20">inbound_rows: 25</tspan><tspan x="999.4" dy="20">inbound_blocks: 1</tspan><tspan x="999.4" dy="20">inbound_bytes: 602</tspan><tspan x="999.4" dy="20">hash_table_bytes: 4915200</tspan><tspan x="999.4" dy="20">process_time_ns_for_build: 69000031</tspan></text></g>
<g id="t2_tfs55"><rect class="n" x="859.7" y="4222.6" width="304.9" height="150"/><text class="t" x="871.3" y="4240.6"><tspan x="871.3">TableFullScan_55</tspan><tspan x="871.3" dy="20">outbound_rows: 25</tspan><tspan x="871.3" dy="20">outbound_blocks: 1</tspan><tspan x="871.3" dy="20">outbound_bytes: 602</tspan><tspan x="871.3" dy="20">execution_time_ns: 15000007</tspan><tspan x="871.3" dy="20">db: db_51</tspan><tspan x="871.3" dy="20">table: t_60</tspan></text></g>
<g id="t2_er54"><rect class="n" x="1188.4" y="4232.8" width="305.4" height="130"/><text class="t" x="1200" y="4250.8"><tspan x="1200">ExchangeReceiver_54</tspan><tspan x="1200" dy="20">outbound_rows: 1</tspan><tspan x="1200" dy="20">outbound_blocks: 1</tspan><tspan x="1200" dy="20">outbound_bytes: 17</tspan><tspan x="1200" dy="20">execution_time_ns: 52000024</tspan><tspan x="1200" dy="20">partition_num: 1</tspan></text></g>

<g id="task1">
<rect class="k" x="1076" y="4446.2" width="531" height="940"/>
<text class="t" x="1087.6" y="4464.2"><tspan x="1087.6">query_tso: 429597109625815041</tspan><tspan x="1087.6" dy="20">task_id: 1</tspan><tspan x="1087.6" dy="20">host: 172.16.5.59:3952</tspan><tspan x="1087.6" dy="20">task_init_timestamp: 1638782919446733073</tspan><tspan x="1087.6" dy="20">compile_start_timestamp: 1638782919537275040</tspan><tspan x="1087.6" dy="20">wait_index_start_timestamp: 1638782919551374477</tspan><tspan x="1087.6" dy="20">wait_index_end_timestamp: 1638782919553680198</tspan><tspan x="1087.6" dy="20">compile_end_timestamp: 1638782919558700964</tspan><tspan x="1087.6" dy="20">task_start_timestamp: 1638782919536316154</tspan><tspan x="1087.6" dy="20">task_end_timestamp: 1638782919648282446</tspan><tspan x="1087.6" dy="20">status: FINISHED</tspan><tspan x="1087.6" dy="20">error_message:</tspan><tspan x="1087.6" dy="20">local_input_bytes: 99</tspan><tspan x="1087.6" dy="20">remote_input_bytes: 0</tspan><tspan x="1087.6" dy="20">output_bytes: 17</tspan><tspan x="1087.6" dy="20">working_time: 0</tspan><tspan x="1087.6" dy="20">memory_peak: 12198352</tspan></text>
</g>
<g id="t1_es53"><rect class="n" x="1188.3" y="4807.8" width="305.8" height="150"/><text class="t" x="1199.9" y="4825.8"><tspan x="1199.9">ExchangeSender_53</tspan><tspan x="1199.9" dy="20">outbound_rows: 1</tspan><tspan x="1199.9" dy="20">outbound_blocks: 1</tspan><tspan x="1199.9" dy="20">outbound_bytes: 17</tspan><tspan x="1199.9" dy="20">execution_time_ns: 88999619</tspan><tspan x="1199.9" dy="20">partition_num: 1</tspan><tspan x="1199.9" dy="20">exchange_type: Broadcast</tspan></text></g>
<g id="t1_sel52"><rect class="n" x="1087.3" y="5006.6" width="305.4" height="170"/><text class="t" x="1098.9" y="5024.6"><tspan x="1098.9">Selection_52</tspan><tspan x="1098.9" dy="20">outbound_rows: 1</tspan><tspan x="1098.9" dy="20">outbound_blocks: 1</tspan><tspan x="1098.9" dy="20">outbound_bytes: 26</tspan><tspan x="1098.9" dy="20">execution_time_ns: 16999927</tspan><tspan x="1098.9" dy="20">inbound_rows: 5</tspan><tspan x="1098.9" dy="20">inbound_blocks: 1</tspan><tspan x="1098.9" dy="20">inbound_bytes: 99</tspan></text></g>
<g id="t1_tfs51"><rect class="n" x="1087.3" y="5225" width="305.4" height="150"/><text class="t" x="1098.9" y="5243"><tspan x="1098.9">TableFullScan_51</tspan><tspan x="1098.9" dy="20">outbound_rows: 5</tspan><tspan x="1098.9" dy="20">outbound_blocks: 1</tspan><tspan x="1098.9" dy="20">outbound_bytes: 99</tspan><tspan x="1098.9" dy="20">execution_time_ns: 14999936</tspan><tspan x="1098.9" dy="20">db: db_51</tspan><tspan x="1098.9" dy="20">table: t_58</tspan></text></g>

<g id="connectors">
<g marker-end="url(#ab)" class="e">
<line x1="287.7" y1="618" x2="273.6" y2="569"/>
<line x1="240.4" y1="876" x2="264.5" y2="828"/>
<line x1="433.6" y1="1105.7" x2="352.3" y2="828"/>
<line x1="165.8" y1="1094.5" x2="176.2" y2="1046"/>
<line x1="906.3" y1="618" x2="892.2" y2="569"/>
<line x1="859" y1="876" x2="883.1" y2="828"/>
<line x1="1052.2" y1="1105.7" x2="970.9" y2="828"/>
<line x1="784.4" y1="1094.5" x2="794.8" y2="1046"/>
<line x1="1463.8" y1="618" x2="1483.3" y2="569"/>
<line x1="1410" y1="876" x2="1413.6" y2="828"/>
<line x1="1604" y1="1105.7" x2="1474" y2="828"/>
<line x1="1392" y1="1094.5" x2="1395.7" y2="1046"/>
<line x1="335.7" y1="1878.5" x2="358.2" y2="1830"/>
<line x1="202" y1="2136.6" x2="228.6" y2="2088.5"/>
<line x1="375.7" y1="2147" x2="344.6" y2="2088.5"/>
<line x1="1076" y1="1878.5" x2="1075" y2="1830"/>
<line x1="850.5" y1="2136.6" x2="923.3" y2="2088.5"/>
<line x1="1085.3" y1="2147" x2="1083.3" y2="2088.5"/>
<line x1="1738.7" y1="1878.5" x2="1717.2" y2="1830"/>
<line x1="1701" y1="2136.6" x2="1728" y2="2088.5"/>
<line x1="1874.4" y1="2147" x2="1842.8" y2="2088.5"/>
<line x1="1098" y1="2921.5" x2="1095" y2="2872.6"/>
<line x1="955" y1="3180.6" x2="1003" y2="3131.5"/>
<line x1="1185.7" y1="3189.3" x2="1158" y2="3131.5"/>
<line x1="1195.3" y1="3963.8" x2="1202" y2="3915.4"/>
<line x1="1066.7" y1="4222.6" x2="1100.5" y2="4173.8"/>
<line x1="1294.3" y1="4232.8" x2="1253" y2="4173.8"/>
<line x1="1282" y1="5006.6" x2="1304" y2="4957.8"/>
<line x1="1239.7" y1="5225" x2="1239.7" y2="5176.6"/>
</g>
<g marker-end="url(#ar)" class="d">
<line x1="400" y1="1680" x2="445.7" y2="1235.2"/>
<line x1="478.5" y1="1680" x2="989.8" y2="1235.2"/>
<line x1="527.4" y1="1690" x2="1521" y2="1224.3"/>
<line x1="993.5" y1="1680" x2="521" y2="1235.2"/>
<line x1="1071.6" y1="1680" x2="1072.3" y2="1235.2"/>
<line x1="1144.5" y1="1680" x2="1575" y2="1235.2"/>
<line x1="1547" y1="1689" x2="588.3" y2="1235.2"/>
<line x1="1604" y1="1680" x2="1144" y2="1235.2"/>
<line x1="1676" y1="1680" x2="1641.7" y2="1235.2"/>
<line x1="1002" y1="2722.6" x2="489.4" y2="2277"/>
<line x1="1087.8" y1="2722.6" x2="1088" y2="2277"/>
<line x1="1193.4" y1="2722.6" x2="1813" y2="2277"/>
<line x1="1217" y1="3765.4" x2="1217" y2="3319.3"/>
<line x1="1341.3" y1="4807.8" x2="1341.4" y2="4362.8"/>
</g>
</g>
</g>
</svg>
